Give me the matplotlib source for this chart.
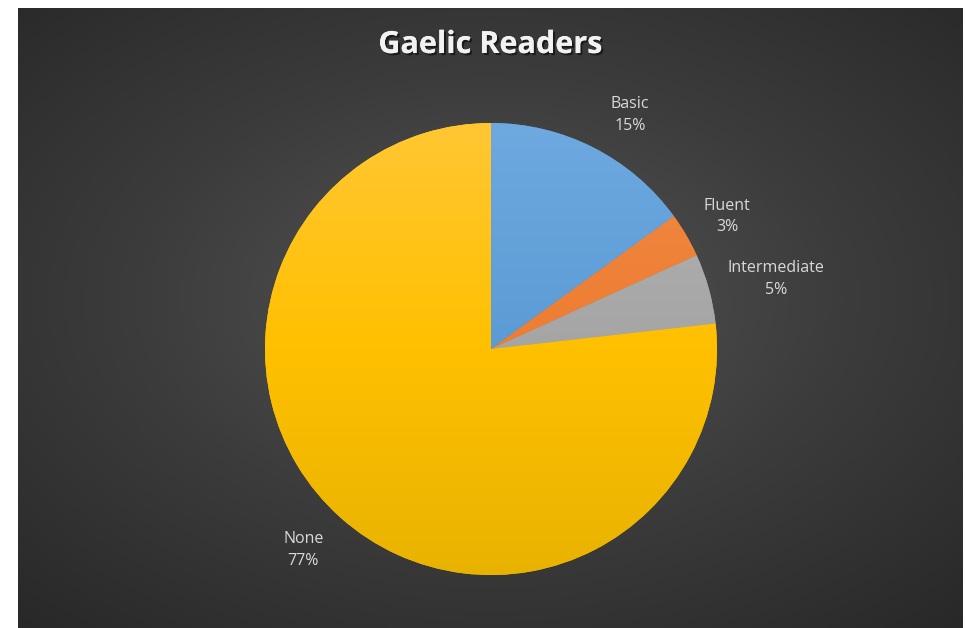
import numpy as np
import matplotlib.pyplot as plt
import matplotlib.patheffects as pe
from matplotlib.colors import LinearSegmentedColormap

# data
categories = ["Basic", "Fluent", "Intermediate", "None"]
shares = [15.0, 3.2, 5.0, 76.8]
pct_labels = ["15%", "3%", "5%", "77%"]

# top / middle / bottom tones for each slice (Excel-like gradient)
SLICE_TONES = [
    ("#6ea9e0", "#5b9bd5", "#4a8bcb"),
    ("#f28a45", "#ed7d31", "#e0702a"),
    ("#b3b3b3", "#a5a5a5", "#979797"),
    ("#ffc733", "#ffc000", "#e8b300"),
]
# label centres in pie data units (radius = 1)
LABEL_POS = [(0.615, 1.035), (1.045, 0.585), (1.26, 0.31), (-0.83, -0.89)]

W, H = 966, 628
fig = plt.figure(figsize=(W / 100, H / 100), dpi=100)
fig.patch.set_facecolor("white")

# radial-gradient background
bg = fig.add_axes([18 / W, 0, (963 - 18) / W, (H - 8) / H])
bg.set_axis_off()
yy, xx = np.mgrid[0:1:400j, 0:1:600j]
r = np.sqrt(((xx - 0.5) / 0.75) ** 2 + ((yy - 0.47) / 0.72) ** 2)
r = np.clip(r, 0, 1)
bg_cmap = LinearSegmentedColormap.from_list("bg", ["#555555", "#3c3c3c", "#282828"])
bg.imshow(r, cmap=bg_cmap, vmin=0, vmax=1, aspect="auto", extent=[0, 1, 0, 1])
bg.set_xlim(0, 1)
bg.set_ylim(0, 1)

# pie axes, centre (491, 349) px, radius 226 px
cx, cy, rad = 491, 349, 226
ax = fig.add_axes([(cx - rad) / W, (H - cy - rad) / H, 2 * rad / W, 2 * rad / H])
ax.set_axis_off()

wedges, _ = ax.pie(shares, startangle=90, counterclock=False, radius=1,
                   colors=[t[1] for t in SLICE_TONES],
                   wedgeprops=dict(linewidth=0))

grad = np.linspace(1, 0, 256).reshape(-1, 1)
for w, tones in zip(wedges, SLICE_TONES):
    cmap = LinearSegmentedColormap.from_list("g", [tones[2], tones[1], tones[0]])
    im = ax.imshow(grad, cmap=cmap, vmin=0, vmax=1, aspect="auto",
                   extent=[-1, 1, -1, 1], zorder=2)
    im.set_clip_path(w)

ax.set_xlim(-1, 1)
ax.set_ylim(-1, 1)

for cat, pct, (lx, ly) in zip(categories, pct_labels, LABEL_POS):
    ax.text(lx, ly, f"{cat}\n{pct}", ha="center", va="center",
            fontsize=11.5, color="#d9d9d9", family="Open Sans",
            linespacing=1.45, clip_on=False, zorder=5)

fig.text(490 / W, 1 - 45 / H, "Gaelic Readers", ha="center", va="center",
         fontsize=22, fontweight="bold", color="#f2f2f2", family="Open Sans",
         path_effects=[pe.withSimplePatchShadow(offset=(1.5, -1.5),
                                                shadow_rgbFace="black", alpha=0.5),
                       pe.Normal()])

fig.savefig("out.png", dpi=100, facecolor=fig.get_facecolor())
